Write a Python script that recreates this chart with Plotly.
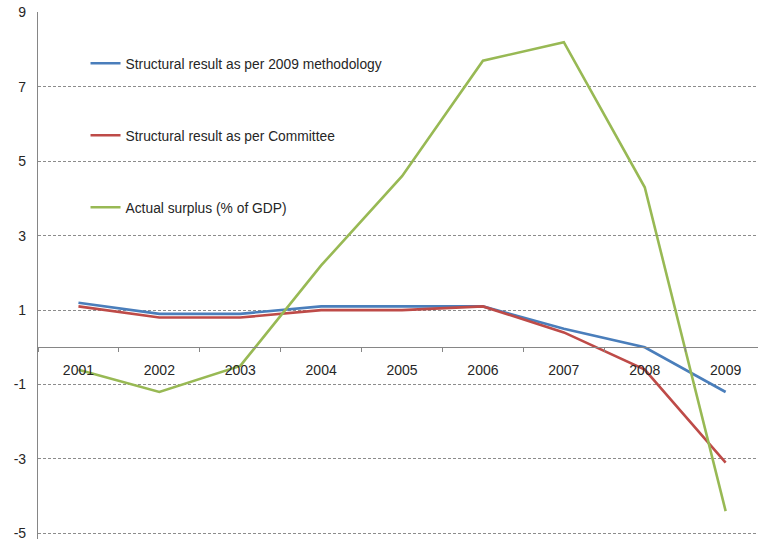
import plotly.graph_objects as go

years = ["2001", "2002", "2003", "2004", "2005", "2006", "2007", "2008", "2009"]
structural_2009 = [1.2, 0.9, 0.9, 1.1, 1.1, 1.1, 0.5, 0.0, -1.2]
structural_committee = [1.1, 0.8, 0.8, 1.0, 1.0, 1.1, 0.4, -0.6, -3.1]
actual_surplus = [-0.6, -1.2, -0.5, 2.2, 4.6, 7.7, 8.2, 4.3, -4.4]

y_ticks = [-5, -3, -1, 1, 3, 5, 7, 9]
y_tick_labels = ["-5", "-3", "-1", "1", "3", "5", "7", "9"]

series = [
    ("Structural result as per 2009 methodology", structural_2009, "#4A7EBB"),
    ("Structural result as per Committee", structural_committee, "#BE4B48"),
    ("Actual surplus (% of GDP)", actual_surplus, "#98B954"),
]

fig = go.Figure()
for i, (name, vals, color) in enumerate(series):
    fig.add_trace(go.Scatter(
        x=years, y=vals, mode="lines", name=name,
        legendgroup=f"g{i}",
        line=dict(color=color, width=2.6),
    ))

y_min, y_max = -5.15, 9.01
fig.update_layout(
    width=758, height=541,
    margin=dict(l=38, r=0, t=12, b=2),
    paper_bgcolor="white", plot_bgcolor="white",
    font=dict(family="Liberation Sans, Arial, sans-serif", size=14, color="#262626"),
    showlegend=True,
    legend=dict(
        x=0.066, y=0.932, xanchor="left", yanchor="top",
        bgcolor="rgba(0,0,0,0)", font=dict(size=13.8, color="#262626"),
        traceorder="grouped", tracegroupgap=51, itemwidth=30,
    ),
    xaxis=dict(
        type="category", range=[-0.5, 8.4],
        anchor="free", position=(0 - y_min) / (y_max - y_min),
        showline=True, linecolor="#868686", linewidth=1.2,
        ticks="outside", tickson="boundaries", ticklen=4, tickcolor="#868686",
        showgrid=False, ticklabelstandoff=10,
        tickfont=dict(size=14, color="#262626"),
    ),
    yaxis=dict(
        range=[y_min, y_max], tickvals=y_ticks, ticktext=y_tick_labels,
        showgrid=True, gridcolor="#8c8c8c", griddash="3px,2px", gridwidth=0.8,
        zeroline=False, showline=True, linecolor="#868686", linewidth=1.2,
        ticks="outside", ticklen=0, ticklabelstandoff=8,
        ticklabeloverflow="allow",
        tickfont=dict(size=14, color="#262626"),
    ),
)

fig.write_html("out.html")
